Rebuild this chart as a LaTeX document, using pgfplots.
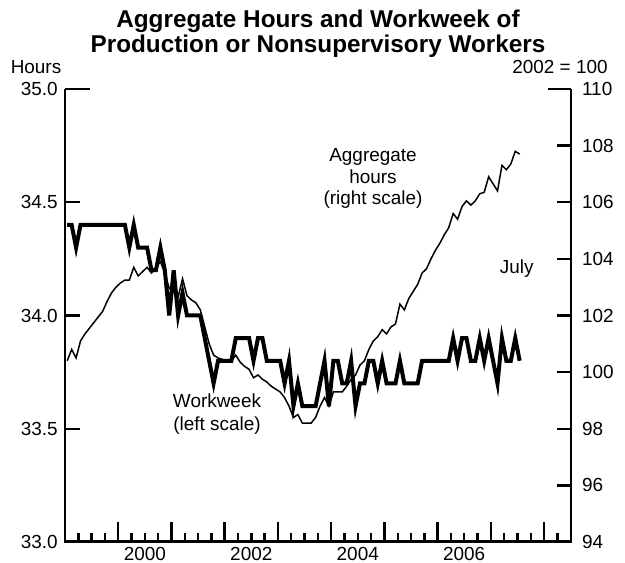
\documentclass[border=0pt]{standalone}
\usepackage{fontspec}
\setmainfont{Liberation Sans}
\usepackage{pgfplots}
\pgfplotsset{compat=1.18}
\usepackage{pgfplotstable}

% month index: 0 = Jan 1999 ... 102 = Jul 2007
\pgfplotstableread{
m v
0 34.4
1 34.4
2 34.3
3 34.4
4 34.4
5 34.4
6 34.4
7 34.4
8 34.4
9 34.4
10 34.4
11 34.4
12 34.4
13 34.4
14 34.3
15 34.4
16 34.3
17 34.3
18 34.3
19 34.2
20 34.2
21 34.3
22 34.2
23 34.0
24 34.2
25 34.0
26 34.1
27 34.0
28 34.0
29 34.0
30 34.0
31 33.9
32 33.8
33 33.7
34 33.8
35 33.8
36 33.8
37 33.8
38 33.9
39 33.9
40 33.9
41 33.9
42 33.8
43 33.9
44 33.9
45 33.8
46 33.8
47 33.8
48 33.8
49 33.7
50 33.8
51 33.6
52 33.7
53 33.6
54 33.6
55 33.6
56 33.6
57 33.7
58 33.8
59 33.6
60 33.8
61 33.8
62 33.7
63 33.7
64 33.8
65 33.6
66 33.7
67 33.7
68 33.8
69 33.8
70 33.7
71 33.8
72 33.7
73 33.7
74 33.7
75 33.8
76 33.7
77 33.7
78 33.7
79 33.7
80 33.8
81 33.8
82 33.8
83 33.8
84 33.8
85 33.8
86 33.8
87 33.9
88 33.8
89 33.9
90 33.9
91 33.8
92 33.8
93 33.9
94 33.8
95 33.9
96 33.8
97 33.7
98 33.9
99 33.8
100 33.8
101 33.9
102 33.8
}\workweek

\pgfplotstableread{
m v
0 100.4
1 100.8
2 100.5
3 101.1
4 101.35
5 101.55
6 101.75
7 101.95
8 102.15
9 102.5
10 102.8
11 103.0
12 103.15
13 103.25
14 103.25
15 103.7
16 103.4
17 103.55
18 103.7
19 103.5
20 103.7
21 103.9
22 103.5
23 102.95
24 103.05
25 102.65
26 103.3
27 102.7
28 102.55
29 102.45
30 102.2
31 101.6
32 101.0
33 100.6
34 100.5
35 100.45
36 100.4
37 100.4
38 100.6
39 100.35
40 100.2
41 100.1
42 99.8
43 99.9
44 99.75
45 99.65
46 99.5
47 99.4
48 99.3
49 99.1
50 98.8
51 98.4
52 98.5
53 98.2
54 98.2
55 98.2
56 98.4
57 98.8
58 99.1
59 98.8
60 99.3
61 99.3
62 99.3
63 99.5
64 99.75
65 99.9
66 100.25
67 100.4
68 100.8
69 101.1
70 101.25
71 101.5
72 101.35
73 101.6
74 101.7
75 102.4
76 102.2
77 102.6
78 102.85
79 103.1
80 103.5
81 103.65
82 104.0
83 104.3
84 104.55
85 104.85
86 105.1
87 105.6
88 105.4
89 105.85
90 106.05
91 105.9
92 106.05
93 106.3
94 106.35
95 106.9
96 106.65
97 106.4
98 107.3
99 107.15
100 107.35
101 107.8
102 107.7
}\aggr

\pgfplotsset{
  base/.style={
    scale only axis, width=252.85bp, height=226.5bp,
    xmin=-0.5, xmax=113.5,
    tick align=inside,
    axis line style={black, line width=1.2bp},
    tick style={black, line width=1.2bp},
    ticklabel style={font=\fontsize{9.5}{11}\selectfont, inner sep=0pt},
  },
}

\begin{document}
\begin{tikzpicture}
\useasboundingbox (-32.5bp,-10.5bp) rectangle (280bp,271bp);

% x axis: year ticks, quarter ticks, labels centred on years
\begin{axis}[base, ymin=0, ymax=1,
  axis x line*=bottom, axis y line*=left, ytick=\empty,
  xtick={11.5,23.5,...,107.5},
  minor xtick={2.5,5.5,...,110.5},
  major tick length=10bp, minor tick length=4.5bp,
  xticklabels={2000,,2002,,2004,,2006,,},
  xticklabel style={anchor=north, xshift=13.3bp, yshift=-2.6bp}]
\end{axis}

% left scale (hours) with workweek
\begin{axis}[base, ymin=33, ymax=35,
  axis x line=none, xtick=\empty, axis y line*=left,
  ytick={33,33.5,34,34.5}, yticklabels={33.0,33.5,34.0,34.5},
  major tick length=7.5bp,
  yticklabel style={anchor=east, xshift=-3.5bp}]
\addplot[black, line width=2bp, mark=none] table[x=m, y=v]{\workweek};
\end{axis}

\begin{axis}[base, ymin=33, ymax=35,
  axis x line=none, xtick=\empty, axis y line*=left,
  ytick={35}, yticklabels={35.0},
  major tick length=12.5bp,
  yticklabel style={anchor=east, xshift=-3.5bp}]
\end{axis}

% right scale (index) with aggregate hours
\begin{axis}[base, ymin=94, ymax=110,
  axis x line=none, xtick=\empty, axis y line*=right,
  ytick={94,96,...,108}, yticklabels={94,96,98,100,102,104,106,108},
  major tick length=7bp,
  yticklabel style={anchor=west, xshift=5.5bp}]
\addplot[black, line width=0.75bp, mark=none] table[x=m, y=v]{\aggr};
\end{axis}

\begin{axis}[base, ymin=94, ymax=110,
  axis x line=none, xtick=\empty, axis y line*=right,
  ytick={110}, yticklabels={110},
  major tick length=11.5bp,
  yticklabel style={anchor=west, xshift=5.5bp}]
\end{axis}

% bottom frame line
\draw[black, line width=1.6bp] (-0.6bp,0.2bp) -- (253.45bp,0.2bp);

\node[font=\bfseries\fontsize{12.2}{12.5}\selectfont, align=center] at (126.5bp,254bp)
  {Aggregate Hours and Workweek of\\Production or Nonsupervisory Workers};
\node[font=\fontsize{9.5}{11}\selectfont] at (-14.5bp,237.5bp) {Hours};
\node[font=\fontsize{9.5}{11}\selectfont] at (247.5bp,237.5bp) {2002 = 100};
\node[font=\fontsize{9.5}{11}\selectfont, align=center] at (154bp,181.75bp)
  {Aggregate\\hours\\(right scale)};
\node[font=\fontsize{9.5}{11.5}\selectfont, align=center] at (76bp,64bp)
  {Workweek\\(left scale)};
\node[font=\fontsize{9.5}{11}\selectfont] at (225.85bp,136.85bp) {July};
\end{tikzpicture}
\end{document}
